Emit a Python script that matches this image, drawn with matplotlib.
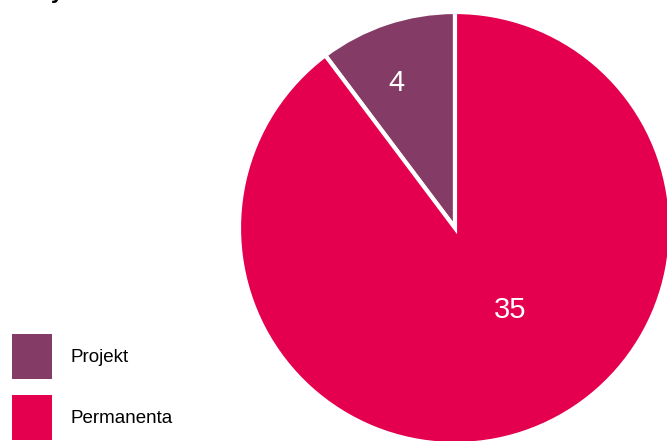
import matplotlib.pyplot as plt
from matplotlib.patches import Patch

categories = ['Projekt', 'Permanenta']
values = [4, 35]
colors = ['#843C66', '#E4004F']
# label positions inside the wedges (pie radius = 1)
label_pos = [(-0.27, 0.67), (0.255, -0.38)]

plt.rcParams['font.family'] = ['Liberation Sans', 'DejaVu Sans']

fig = plt.figure(figsize=(6.67, 4.41), dpi=100)
W, H = 667, 441
cx, cy, r = 455, 228, 216
ax = fig.add_axes([(cx - r) / W, (H - cy - r) / H, 2 * r / W, 2 * r / H])

ax.pie(values, colors=colors, startangle=90, counterclock=True,
       wedgeprops=dict(edgecolor='white', linewidth=3))
ax.set_xlim(-1, 1)
ax.set_ylim(-1, 1)
ax.set_aspect('equal')
ax.axis('off')

for v, (x, y) in zip(values, label_pos):
    ax.text(x, y, str(v), color='white', fontsize=21, ha='center', va='center')

# cut-off title, only a descender shows at the top
fig.text(51 / W, 1 + 2 / H, 'y', fontsize=16, fontweight='bold', va='baseline')

handles = [Patch(facecolor=c, edgecolor='none') for c in colors]
fig.legend(handles, categories, loc='lower left', bbox_to_anchor=(-0.0073, -0.036),
           frameon=False, fontsize=13.5, handlelength=2.13, handleheight=3.28,
           handletextpad=1.0, labelspacing=0.9)

fig.savefig('out.png', dpi=100)
